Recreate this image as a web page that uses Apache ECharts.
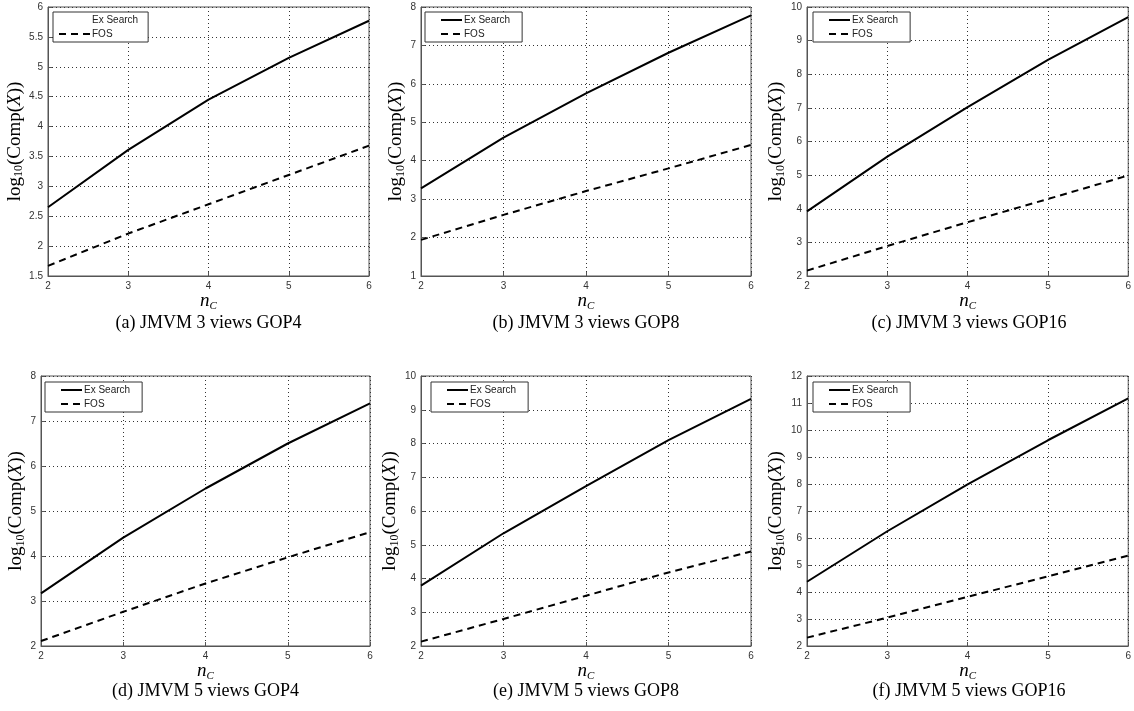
<!DOCTYPE html>
<html>
<head>
<meta charset="utf-8">
<title>Complexity vs n_C</title>
<script src="https://cdn.jsdelivr.net/npm/echarts@6/dist/echarts.min.js"></script>
<style>
  html, body { margin: 0; padding: 0; background: #fff; }
  #chart { width: 1134px; height: 711px; }
</style>
</head>
<body>
<div id="chart"></div>
<script>
// x values (number of candidates)
const nC = [2, 3, 4, 5, 6]

// (a) JMVM 3 views GOP4
const exSearchA = [2.65, 3.61, 4.45, 5.15, 5.77]
const fosA = [1.67, 2.21, 2.7, 3.19, 3.68]
// (b) JMVM 3 views GOP8
const exSearchB = [3.28, 4.6, 5.75, 6.81, 7.78]
const fosB = [1.94, 2.59, 3.21, 3.8, 4.41]
// (c) JMVM 3 views GOP16
const exSearchC = [3.92, 5.55, 7.02, 8.43, 9.7]
const fosC = [2.16, 2.89, 3.6, 4.29, 4.99]
// (d) JMVM 5 views GOP4
const exSearchD = [3.17, 4.41, 5.5, 6.5, 7.39]
const fosD = [2.11, 2.76, 3.39, 3.97, 4.53]
// (e) JMVM 5 views GOP8
const exSearchE = [3.79, 5.34, 6.74, 8.1, 9.32]
const fosE = [2.13, 2.8, 3.49, 4.18, 4.8]
// (f) JMVM 5 views GOP16
const exSearchF = [4.38, 6.25, 7.99, 9.62, 11.17]
const fosF = [2.31, 3.05, 3.82, 4.58, 5.35]

const captions = [
  '(a) JMVM 3 views GOP4',
  '(b) JMVM 3 views GOP8',
  '(c) JMVM 3 views GOP16',
  '(d) JMVM 5 views GOP4',
  '(e) JMVM 5 views GOP8',
  '(f) JMVM 5 views GOP16',
]

// y axis ranges per panel: [min, max, step]
const yRanges = [
  [1.5, 6, 0.5],
  [1, 8, 1],
  [2, 10, 1],
  [2, 8, 1],
  [2, 10, 1],
  [2, 12, 1],
]

const exSeries = [exSearchA, exSearchB, exSearchC, exSearchD, exSearchE, exSearchF]
const fosSeries = [fosA, fosB, fosC, fosD, fosE, fosF]

// plot box layout in pixels
const panels = [
  { left: 48, top: 7, width: 321, height: 269, nameGap: 17, legLeft: 53, legTop: 12 },
  { left: 421, top: 7, width: 330, height: 269, nameGap: 12, legLeft: 425, legTop: 12 },
  { left: 807, top: 7, width: 324, height: 269, nameGap: 14, legLeft: 813, legTop: 12 },
  { left: 41, top: 376, width: 329, height: 270, nameGap: 12, legLeft: 45, legTop: 382 },
  { left: 421, top: 376, width: 330, height: 270, nameGap: 12, legLeft: 431, legTop: 382 },
  { left: 807, top: 376, width: 324, height: 270, nameGap: 14, legLeft: 813, legTop: 382 },
]

const chart = echarts.init(document.getElementById('chart'), null, { renderer: 'canvas' })

const tickFont = { fontSize: 10, color: '#333', fontFamily: 'Liberation Sans' }
const serif = 'Liberation Serif'

const grid = []
const xAxis = []
const yAxis = []
const series = []
const legend = []
const graphic = []

panels.forEach((p, i) => {
  grid.push({
    left: p.left,
    top: p.top,
    width: p.width,
    height: p.height,
    show: true,
    borderColor: '#555',
    borderWidth: 1,
    containLabel: false,
  })

  xAxis.push({
    type: 'value',
    gridIndex: i,
    min: 2,
    max: 6,
    interval: 1,
    name: '{n|n}{s|C}',
    nameLocation: 'middle',
    nameGap: 5,
    nameTextStyle: {
      rich: {
        n: { fontFamily: serif, fontStyle: 'italic', fontSize: 19, color: '#000' },
        s: { fontFamily: serif, fontStyle: 'italic', fontSize: 11, color: '#000', padding: [9, 0, 0, 0] },
      },
    },
    axisLine: { lineStyle: { color: '#555' } },
    axisTick: { inside: true, length: 4, lineStyle: { color: '#555' } },
    axisLabel: { ...tickFont, margin: 5 },
    splitLine: { show: true, lineStyle: { color: '#333', type: [1, 3], width: 1 } },
  })

  const yr = yRanges[i]
  yAxis.push({
    type: 'value',
    gridIndex: i,
    min: yr[0],
    max: yr[1],
    interval: yr[2],
    name: '{n|log}{s|10}{n|(Comp(}{i|X}{n|))}',
    nameLocation: 'middle',
    nameGap: p.nameGap,
    nameTextStyle: {
      rich: {
        n: { fontFamily: serif, fontSize: 19, color: '#000' },
        i: { fontFamily: serif, fontStyle: 'italic', fontSize: 19, color: '#000' },
        s: { fontFamily: serif, fontSize: 12, color: '#000', padding: [9, 0, 0, 0] },
      },
    },
    axisLine: { show: true, lineStyle: { color: '#555' } },
    axisTick: { show: true, inside: true, length: 4, lineStyle: { color: '#555' } },
    axisLabel: { ...tickFont, margin: 5 },
    splitLine: { show: true, lineStyle: { color: '#333', type: [1, 3], width: 1 } },
  })

  series.push({
    name: 'Ex Search',
    type: 'line',
    xAxisIndex: i,
    yAxisIndex: i,
    symbol: 'none',
    lineStyle: { color: '#000', width: 2 },
    itemStyle: { color: '#000' },
    data: nC.map((x, k) => [x, exSeries[i][k]]),
  })
  series.push({
    name: 'FOS',
    type: 'line',
    xAxisIndex: i,
    yAxisIndex: i,
    symbol: 'none',
    lineStyle: { color: '#000', width: 2, type: [7, 5] },
    itemStyle: { color: '#000' },
    data: nC.map((x, k) => [x, fosSeries[i][k]]),
  })

  // panel (a) shows no line sample for Ex Search in its legend
  const first = i === 0
  const exItem = first
    ? { name: 'Ex Search', lineStyle: { opacity: 0 }, itemStyle: { opacity: 0 } }
    : 'Ex Search'
  legend.push({
    orient: 'vertical',
    left: p.legLeft,
    top: p.legTop,
    data: [exItem, 'FOS'],
    itemWidth: first ? 31 : 21,
    itemHeight: 8,
    itemGap: 4,
    itemStyle: { opacity: 0 },
    padding: first ? [3, 10, 3, 5] : [3, 12, 3, 15],
    borderColor: '#333',
    borderWidth: 1,
    backgroundColor: '#fff',
    selectedMode: false,
    textStyle: { fontSize: 10, color: '#222', fontFamily: 'Liberation Sans', padding: [0, 0, 0, -3] },
  })

  graphic.push({
    type: 'text',
    x: p.left + p.width / 2,
    y: i < 3 ? 323 : 691,
    style: {
      text: captions[i],
      font: '18px "Liberation Serif"',
      fill: '#000',
      textAlign: 'center',
      textVerticalAlign: 'middle',
      align: 'center',
      verticalAlign: 'middle',
    },
  })
})

chart.setOption({
  animation: false,
  backgroundColor: '#fff',
  grid,
  xAxis,
  yAxis,
  series,
  legend,
  graphic,
})
</script>
</body>
</html>
